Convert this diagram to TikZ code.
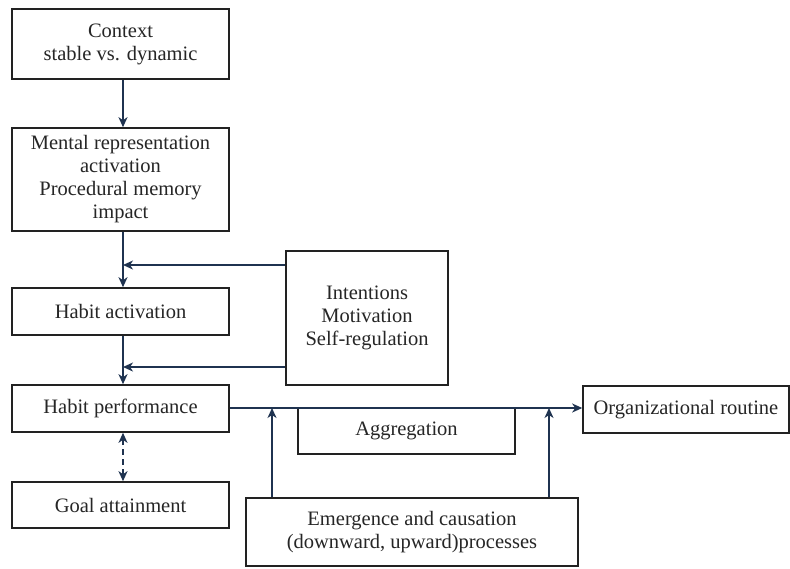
\documentclass[tikz,border=0pt]{standalone}
\usepackage{fontspec}
\setmainfont{Liberation Serif}
\usetikzlibrary{arrows.meta,calc}
\definecolor{arrowcol}{HTML}{1F3350}
\definecolor{boxcol}{HTML}{222222}
\begin{document}
\begin{tikzpicture}[x=1pt,y=-1pt,
  box/.style={draw=boxcol,line width=1.6pt,rectangle,inner sep=0pt,align=center,
    font=\fontsize{20.5}{23}\selectfont,text=black!85},
  tip/.style={},
  arr/.style={draw=arrowcol,line width=1.6pt,-{Stealth[length=10pt,width=9pt,inset=3pt]}},
  darr/.style={draw=arrowcol,line width=1.6pt,dashed,dash pattern=on 6pt off 4pt,
    {Stealth[length=10pt,width=9pt,inset=3pt]}-{Stealth[length=10pt,width=9pt,inset=3pt]}}]
\useasboundingbox (0,0) rectangle (790,568);
\fill[white] (0,0) rectangle (790,568);
\node[box,minimum width=217pt,minimum height=70pt] (ctx) at (120.5,44) {Context\\stable vs. dynamic};
\node[box,minimum width=217pt,minimum height=103pt] (mental) at (120.5,179.5) {Mental representation\\activation\\Procedural memory\\impact};
\node[box,minimum width=217pt,minimum height=47pt] (hact) at (120.5,311.5) {Habit activation};
\node[box,minimum width=162pt,minimum height=134pt] (intent) at (367,318) {Intentions\\Motivation\\Self-regulation};
\node[box,minimum width=217pt,minimum height=47pt] (hperf) at (120.5,408.5) {Habit performance};
\node[box,minimum width=217pt,minimum height=46pt] (goal) at (120.5,505) {Goal attainment};
\node[box,minimum width=217pt,minimum height=46pt] (aggr) at (406.5,431) {Aggregation};
\node[box,minimum width=206pt,minimum height=47pt] (org) at (686,409.5) {Organizational routine};
\node[box,minimum width=332pt,minimum height=68pt] (emerg) at (412,532) {Emergence and causation\\(downward, upward)processes};
% vertical chain
\draw[arr] (ctx.south -| 123,0) -- (mental.north -| 123,0);
\draw[arr] (mental.south -| 123,0) -- (hact.north -| 123,0);
\draw[arr] (hact.south -| 123,0) -- (hperf.north -| 123,0);
\draw[darr] (hperf.south -| 123,0) -- (goal.north -| 123,0);
% intentions feeds
\coordinate (j1) at (123,265);
\coordinate (j2) at (123,367);
\draw[arr] (intent.west |- j1) -- (j1);
\draw[arr] (intent.west |- j2) -- (j2);
% main line to organizational routine
\draw[arr] (hperf.east |- 0,408) -- (org.west |- 0,408);
\coordinate (u1) at (272,408);
\coordinate (u2) at (549,408);
\draw[arr] (emerg.north -| u1) -- (u1);
\draw[arr] (emerg.north -| u2) -- (u2);
\end{tikzpicture}
\end{document}
